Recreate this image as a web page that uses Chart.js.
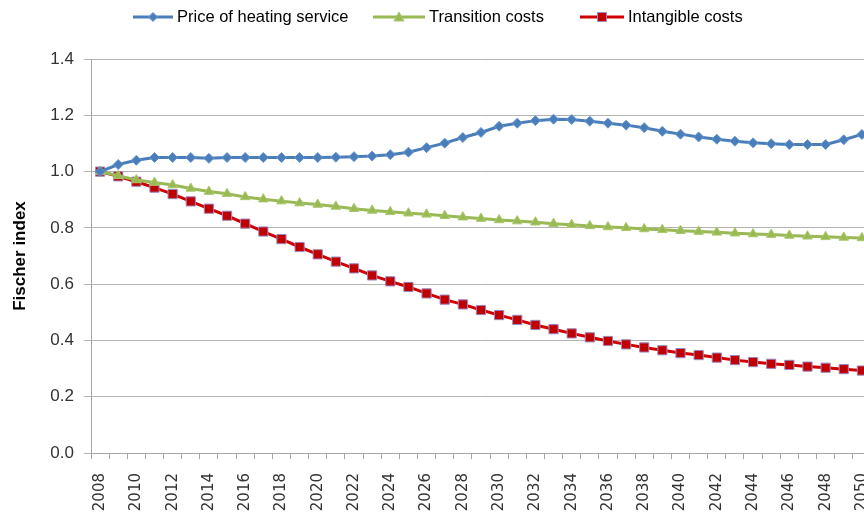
<!DOCTYPE html>
<html>
<head>
<meta charset="utf-8">
<script src="https://cdn.jsdelivr.net/npm/chart.js@4/dist/chart.umd.min.js"></script>
<style>
  html, body { margin: 0; padding: 0; background: #fff; overflow: hidden; }
  #wrap { width: 894px; height: 515px; }
</style>
</head>
<body>
<div id="wrap"><canvas id="grafico" width="894" height="515"></canvas></div>
<script>
// years 2008..2050
const years = [];
for (let y = 2008; y <= 2050; y++) years.push(String(y));

const heating = [1.000, 1.025, 1.040, 1.050, 1.050, 1.050, 1.047, 1.050, 1.050, 1.050,
  1.050, 1.050, 1.050, 1.051, 1.053, 1.055, 1.060, 1.069, 1.085, 1.101,
  1.121, 1.139, 1.161, 1.172, 1.181, 1.186, 1.185, 1.179, 1.172, 1.165,
  1.156, 1.143, 1.133, 1.123, 1.115, 1.108, 1.102, 1.099, 1.096, 1.096,
  1.096, 1.113, 1.132];

const transition = [1.000, 0.985, 0.970, 0.961, 0.952, 0.940, 0.929, 0.921, 0.910, 0.902,
  0.895, 0.888, 0.883, 0.876, 0.868, 0.862, 0.857, 0.852, 0.848, 0.843,
  0.838, 0.833, 0.828, 0.824, 0.820, 0.815, 0.811, 0.807, 0.803, 0.800,
  0.796, 0.793, 0.790, 0.787, 0.784, 0.781, 0.778, 0.776, 0.773, 0.770,
  0.768, 0.766, 0.764];

const intangible = [1.000, 0.983, 0.964, 0.943, 0.920, 0.894, 0.868, 0.843, 0.815, 0.787,
  0.760, 0.732, 0.706, 0.680, 0.656, 0.631, 0.610, 0.590, 0.567, 0.545,
  0.528, 0.508, 0.490, 0.473, 0.455, 0.440, 0.425, 0.411, 0.398, 0.386,
  0.375, 0.365, 0.355, 0.348, 0.339, 0.330, 0.323, 0.317, 0.313, 0.307,
  0.303, 0.298, 0.293];

const yTicks = [0, 0.2, 0.4, 0.6, 0.8, 1.0, 1.2, 1.4];

// legend desenhada a mao (linha + marcador)
const legendaLinha = {
  id: "legendaLinha",
  afterDraw(chart) {
    const ctx = chart.ctx;
    const items = [
      { x: 133, len: 40, ds: chart.data.datasets[0] },
      { x: 373, len: 52, ds: chart.data.datasets[1] },
      { x: 580, len: 44, ds: chart.data.datasets[2] },
    ];
    const y = 17;
    ctx.save();
    items.forEach((it) => {
      const ds = it.ds;
      ctx.strokeStyle = ds.borderColor;
      ctx.lineWidth = 3;
      ctx.beginPath();
      ctx.moveTo(it.x, y);
      ctx.lineTo(it.x + it.len, y);
      ctx.stroke();
      const cx = it.x + it.len / 2;
      ctx.fillStyle = ds.pointBackgroundColor;
      ctx.strokeStyle = ds.pointBorderColor;
      ctx.lineWidth = 1;
      ctx.beginPath();
      if (ds.pointStyle === "rectRot") {
        ctx.moveTo(cx, y - 4.5); ctx.lineTo(cx + 4.5, y); ctx.lineTo(cx, y + 4.5); ctx.lineTo(cx - 4.5, y);
      } else if (ds.pointStyle === "triangle") {
        ctx.moveTo(cx, y - 5); ctx.lineTo(cx + 5, y + 4); ctx.lineTo(cx - 5, y + 4);
      } else {
        ctx.rect(cx - 4.5, y - 4.5, 9, 9);
      }
      ctx.closePath();
      ctx.fill();
      ctx.stroke();
      ctx.fillStyle = "#000";
      ctx.font = "16.5px 'Liberation Sans', sans-serif";
      ctx.textBaseline = "middle";
      ctx.textAlign = "left";
      ctx.fillText(ds.label, it.x + it.len + 4, y);
    });
    ctx.restore();
  },
};

let grafico = new Chart(document.getElementById("grafico"), {
  type: "line",
  data: {
    labels: years,
    datasets: [
      {
        label: "Price of heating service",
        data: heating,
        borderColor: "#4A7EBB",
        borderWidth: 3,
        pointStyle: "rectRot",
        pointRadius: 5,
        pointBackgroundColor: "#4A7EBB",
        pointBorderColor: "#6B98CF",
        pointBorderWidth: 1,
      },
      {
        label: "Transition costs",
        data: transition,
        borderColor: "#98B954",
        borderWidth: 3,
        pointStyle: "triangle",
        pointRadius: 5.5,
        pointBackgroundColor: "#98B954",
        pointBorderColor: "#A8C86A",
        pointBorderWidth: 1,
      },
      {
        label: "Intangible costs",
        data: intangible,
        borderColor: "#D00000",
        borderWidth: 3,
        pointStyle: "rect",
        pointRadius: 6.5,
        pointBackgroundColor: "#C00000",
        pointBorderColor: "#9C88C4",
        pointBorderWidth: 1,
      },
    ],
  },
  options: {
    responsive: false,
    animation: false,
    layout: { padding: { left: 0, right: 9, top: 59, bottom: 0 } },
    plugins: {
      legend: { display: false },
      tooltip: { enabled: false },
    },
    elements: { line: { tension: 0 } },
    scales: {
      x: {
        type: "category",
        offset: true,
        afterFit: (s) => { s.height = 62; },
        grid: {
          offset: true,
          drawOnChartArea: false,
          drawTicks: true,
          tickLength: 6,
          color: "#A6A6A6",
        },
        border: { color: "#A6A6A6", width: 1 },
        ticks: {
          autoSkip: false,
          maxRotation: 90,
          minRotation: 90,
          padding: 14,
          color: "#333",
          font: { family: "'DejaVu Sans', sans-serif", size: 15 },
          callback: function (val, i) {
            return i % 2 === 0 ? years[i] : "";
          },
        },
      },
      y: {
        min: 0,
        max: 1.4,
        afterFit: (s) => { s.width = 91; },
        afterBuildTicks: (s) => { s.ticks = yTicks.map((v) => ({ value: v })); },
        grid: {
          color: "#B3B3B3",
          tickLength: 7,
          lineWidth: 1,
        },
        border: { color: "#A6A6A6", width: 1 },
        title: {
          display: true,
          text: "Fischer index",
          color: "#000",
          padding: { top: 10, bottom: 0 },
          font: { family: "'Liberation Sans', sans-serif", size: 17, weight: "bold" },
        },
        ticks: {
          color: "#333",
          padding: 10,
          font: { family: "'Liberation Sans', sans-serif", size: 17 },
          callback: (v) => Number(v).toFixed(1),
        },
      },
    },
  },
  plugins: [legendaLinha],
});
</script>
</body>
</html>
